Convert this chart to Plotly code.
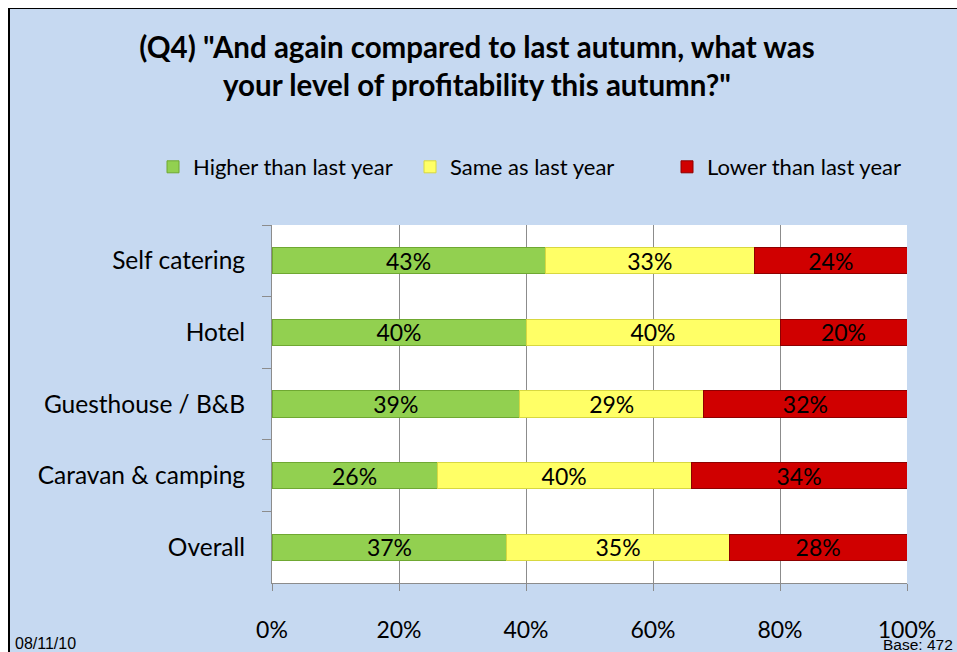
import plotly.graph_objects as go

categories = ["Self catering", "Hotel", "Guesthouse / B&B", "Caravan & camping", "Overall"]
higher = [43, 40, 39, 26, 37]
same = [33, 40, 29, 40, 35]
lower = [24, 20, 32, 34, 28]
series_names = ["Higher than last year", "Same as last year", "Lower than last year"]
tick_vals = [0, 20, 40, 60, 80, 100]
tick_text = ["0%", "20%", "40%", "60%", "80%", "100%"]

colors = ["#92D050", "#FFFF66", "#D00000"]
edge = ["#6FA832", "#D8D840", "#8E0000"]

# page body has an 8px margin; figure drawn in local coordinates
W, H = 949, 644
L, R, T, B = 264, 50, 217, 69
pw, ph = W - L - R, H - T - B

FONT = "Lato"

fig = go.Figure()
for name, vals, c, e in zip(series_names, [higher, same, lower], colors, edge):
    fig.add_trace(go.Bar(
        y=categories, x=vals, name=name, orientation="h",
        marker=dict(color=c, line=dict(color=e, width=1)),
        text=[f"{v}%" for v in vals], textposition="inside",
        insidetextanchor="middle", constraintext="none",
        textfont=dict(family=FONT, size=23, color="black"),
    ))

fig.update_layout(
    width=W, height=H,
    barmode="stack", bargap=0.635,
    paper_bgcolor="#C6D9F1", plot_bgcolor="white",
    margin=dict(l=L, r=R, t=T, b=B, autoexpand=False),
    font=dict(family=FONT, size=22, color="black"),
    title=dict(
        text='<b>(Q4) "And again compared to last autumn, what was<br>your level of profitability this autumn?"</b>',
        x=469 / W, xanchor="center", y=1 - 50 / H, yanchor="middle",
        font=dict(family=FONT, size=29.5, color="black"),
    ),
    legend=dict(
        orientation="h", xref="paper", x=(145 - L) / pw, xanchor="left",
        yref="paper", y=(H - B - 159) / ph, yanchor="middle",
        font=dict(family=FONT, size=22), bgcolor="rgba(0,0,0,0)",
        itemwidth=30, traceorder="normal", entrywidth=212, entrywidthmode="pixels",
    ),
    showlegend=True,
)
fig.update_xaxes(
    range=[0, 100], tickvals=tick_vals, ticktext=tick_text,
    showgrid=True, gridcolor="#8C8C8C", gridwidth=1,
    showline=True, linecolor="#8C8C8C", mirror=False,
    ticks="outside", ticklen=7, tickcolor="#8C8C8C",
    ticklabelstandoff=19, tickfont=dict(family=FONT, size=23),
    zeroline=False, automargin=False,
)
fig.update_yaxes(
    categoryorder="array", categoryarray=categories, autorange="reversed",
    showline=True, linecolor="#8C8C8C",
    ticks="outside", ticklen=9, tickcolor="#8C8C8C", tickson="boundaries",
    ticklabelstandoff=21, tickfont=dict(family=FONT, size=24.5),
    showgrid=False, automargin=False,
)
# chart frame (left and top edges)
fig.add_shape(type="line", xref="paper", yref="paper",
              x0=(1 - L) / pw, x1=(1 - L) / pw, y0=-1, y1=(H - B - 0) / ph,
              line=dict(color="black", width=2))
fig.add_shape(type="line", xref="paper", yref="paper",
              x0=(1 - L) / pw, x1=2, y0=(H - B - 0) / ph, y1=(H - B - 0) / ph,
              line=dict(color="black", width=2))
fig.add_annotation(text="08/11/10", xref="paper", yref="paper",
                   x=(5 - L) / pw, y=(H - B - 635) / ph, xanchor="left", yanchor="middle",
                   showarrow=False, font=dict(family="Liberation Sans", size=16, color="black"))
fig.add_annotation(text="Base: 472", xref="paper", yref="paper",
                   x=(947 - L) / pw, y=(H - B - 636) / ph, xanchor="right", yanchor="middle",
                   showarrow=False, font=dict(family="Liberation Sans", size=15.5, color="black"))

fig.write_html(
    "out.html",
    post_script="document.body.style.margin='8px 0 0 8px';document.body.style.overflow='hidden';",
)
